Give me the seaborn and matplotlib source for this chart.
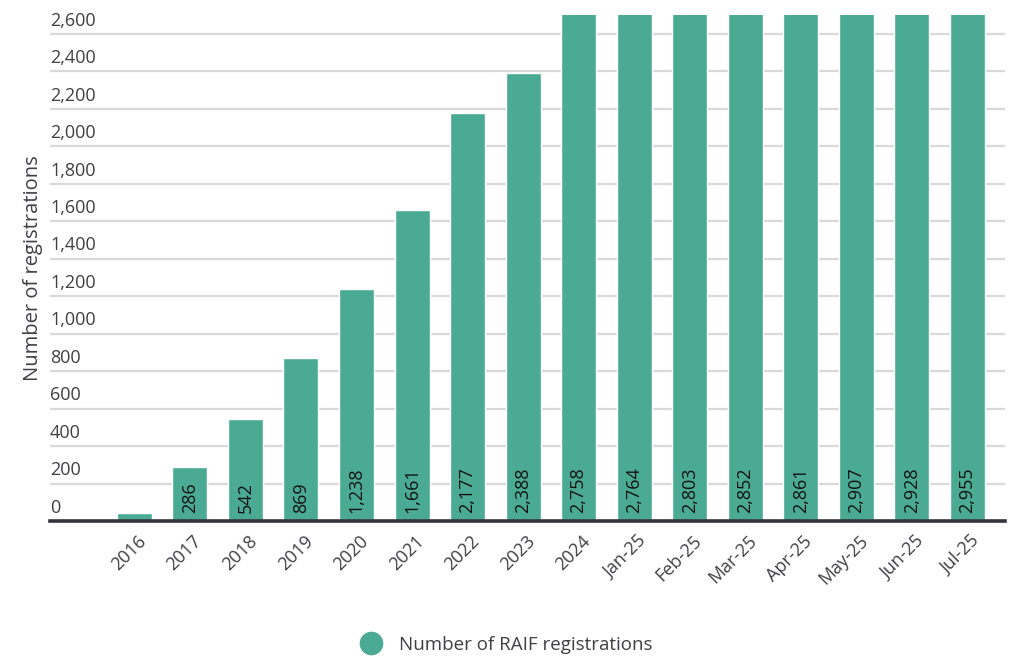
import matplotlib
matplotlib.use("Agg")
import matplotlib.pyplot as plt
import matplotlib.transforms as mtransforms
from matplotlib.lines import Line2D
import seaborn as sns
import pandas as pd

# Cumulative RAIF registrations by period
periods = ["2016", "2017", "2018", "2019", "2020", "2021", "2022", "2023", "2024",
           "Jan-25", "Feb-25", "Mar-25", "Apr-25", "May-25", "Jun-25", "Jul-25"]
registrations = [44, 286, 542, 869, 1238, 1661, 2177, 2388, 2758,
                 2764, 2803, 2852, 2861, 2907, 2928, 2955]
y_ticks = [0, 200, 400, 600, 800, 1000, 1200, 1400, 1600, 1800,
           2000, 2200, 2400, 2600]
series_name = "Number of RAIF registrations"

BAR = "#4BAA94"
TEXT = "#3f3f46"

sns.set_theme(style="white")
plt.rcParams["font.family"] = ["Open Sans", "DejaVu Sans"]

df = pd.DataFrame({"period": periods, "count": registrations})

fig = plt.figure(figsize=(10.12, 6.61), dpi=100)
ax = fig.add_axes([50 / 1012, 140 / 661, 955 / 1012, 506 / 661])

sns.barplot(data=df, x="period", y="count", color=BAR, saturation=1,
            width=0.63, ax=ax, zorder=2)

ax.set_ylim(0, 2700)
ax.set_xlim(-1.52, len(periods) - 1 + 0.68)

# horizontal gridlines
ax.set_yticks(y_ticks)
ax.yaxis.grid(True, color="#d9d9d9", linewidth=1.6, zorder=0)
ax.set_axisbelow(True)
for s in ["top", "right", "left"]:
    ax.spines[s].set_visible(False)
ax.spines["bottom"].set_color("#37333d")
ax.spines["bottom"].set_linewidth(2.6)
ax.spines["bottom"].set_zorder(3)

# y tick labels sit just above their gridlines, inside the plot
ax.set_yticklabels([f"{v:,}" for v in y_ticks], fontsize=13, color=TEXT)
ax.tick_params(axis="y", length=0, pad=0)
shift = mtransforms.ScaledTranslation(0, 3 / 72, fig.dpi_scale_trans)
for lab in ax.get_yticklabels():
    lab.set_horizontalalignment("left")
    lab.set_verticalalignment("bottom")
    lab.set_transform(lab.get_transform() + shift)

# x tick labels rotated 45 degrees
ax.tick_params(axis="x", length=0, pad=8)
for lab in ax.get_xticklabels():
    lab.set_rotation(45)
    lab.set_horizontalalignment("right")
    lab.set_rotation_mode("anchor")
    lab.set_fontsize(13)
    lab.set_color(TEXT)
    lab.set_transform(lab.get_transform() +
                      mtransforms.ScaledTranslation(2 / 72, 0, fig.dpi_scale_trans))

ax.set_xlabel("")
ax.set_ylabel("Number of registrations", fontsize=14.5, color=TEXT, labelpad=5)

# value labels inside the bars, rotated, anchored at the base
for i, v in enumerate(registrations):
    if v < 100:
        continue
    ax.annotate(f"{v:,}", xy=(i, 0), xytext=(0, 6), textcoords="offset points",
                rotation=90, ha="center", va="bottom", fontsize=13,
                color="#111111", zorder=4)

handle = Line2D([], [], marker="o", linestyle="none", markersize=16,
                markerfacecolor=BAR, markeredgecolor=BAR)
fig.legend([handle], [series_name], loc="center",
           bbox_to_anchor=(502 / 1012, 1 - 645 / 661), frameon=False,
           fontsize=13.5, labelcolor=TEXT, handletextpad=0.5)

fig.savefig("out.png", dpi=100)
